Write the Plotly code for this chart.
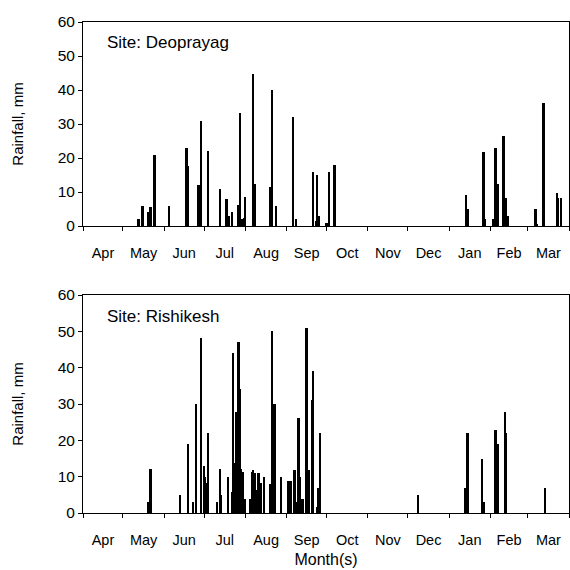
import plotly.graph_objects as go
from plotly.subplots import make_subplots

# Deoprayag daily rainfall (mm)
deo_dates = ["2001-05-13","2001-05-16","2001-05-20","2001-05-22","2001-05-25","2001-06-05",
             "2001-06-18","2001-06-19","2001-06-27","2001-06-29","2001-07-04","2001-07-13",
             "2001-07-18","2001-07-20","2001-07-22","2001-07-27","2001-07-28","2001-07-30",
             "2001-07-31","2001-08-01","2001-08-07","2001-08-08","2001-08-20","2001-08-21",
             "2001-08-24","2001-09-06","2001-09-08","2001-09-21","2001-09-23","2001-09-24",
             "2001-09-25","2001-10-01","2001-10-03","2001-10-07",
             "2002-01-14","2002-01-15","2002-01-27","2002-01-28","2002-02-03","2002-02-05",
             "2002-02-07","2002-02-11","2002-02-13","2002-02-14","2002-03-07","2002-03-08",
             "2002-03-13","2002-03-23","2002-03-24","2002-03-26"]
deo_rain = [2.0,5.9,4.1,5.5,21,5.9,
            23,17.6,12.1,31,22,10.9,
            8,2.9,4.0,6.2,33.1,2.1,
            2.4,8.4,44.7,12.4,11.4,40,
            5.9,32,2,15.8,1.6,14.9,
            2.8,1,15.8,17.8,
            9.2,4.9,21.9,2,2.2,22.9,
            12.5,26.6,8.2,3,4.9,0.5,
            36.3,9.6,8.1,8.1]

# Rishikesh daily rainfall (mm)
ris_dates = ["2001-05-20","2001-05-22","2001-06-13","2001-06-19","2001-06-23","2001-06-25",
             "2001-06-29","2001-07-01","2001-07-02","2001-07-03","2001-07-04","2001-07-11",
             "2001-07-13","2001-07-14","2001-07-19","2001-07-22","2001-07-23","2001-07-24",
             "2001-07-25","2001-07-26","2001-07-27","2001-07-28","2001-07-29","2001-07-30",
             "2001-08-01","2001-08-05","2001-08-06","2001-08-07","2001-08-08","2001-08-09",
             "2001-08-11","2001-08-12","2001-08-13","2001-08-15","2001-08-20","2001-08-21",
             "2001-08-23","2001-08-28","2001-09-02","2001-09-04","2001-09-07","2001-09-08",
             "2001-09-10","2001-09-11","2001-09-13","2001-09-16","2001-09-17","2001-09-18",
             "2001-09-20","2001-09-21","2001-09-24","2001-09-25","2001-09-26",
             "2001-12-09","2002-01-13","2002-01-15","2002-01-26","2002-01-27","2002-02-05",
             "2002-02-07","2002-02-12","2002-02-13","2002-03-14"]
ris_rain = [3.0,12.1,5.0,19,3,30,
            48.1,12.9,10,8.3,21.9,3,
            12,5,10,5.9,44.1,13.8,
            27.9,9,47.1,34,12,11.4,
            3.9,3.9,11.4,11.8,11,6.3,
            10.9,7.9,8.2,9.8,7.9,50,
            29.9,9.8,8.9,8.9,11.8,2.9,
            26.1,9.8,3.8,51,2.9,11.8,
            31.1,39.1,1.7,6.9,21.9,
            4.9,6.9,21.9,14.9,2.9,22.9,
            19,27.9,21.9,6.8]

sites = ["Site: Deoprayag", "Site: Rishikesh"]

FONT = "Liberation Sans, Arial, sans-serif"
DAY = 86400000

fig = make_subplots(rows=2, cols=1, vertical_spacing=0.0)
fig.add_trace(go.Bar(x=deo_dates, y=deo_rain, marker_color="black", marker_line_width=0,
                     width=1.4 * DAY), row=1, col=1)
fig.add_trace(go.Bar(x=ris_dates, y=ris_rain, marker_color="black", marker_line_width=0,
                     width=1.4 * DAY), row=2, col=1)

H = 570 - 22 - 57
fig.update_layout(
    width=570, height=570,
    margin=dict(l=83, r=1, t=22, b=57),
    paper_bgcolor="white", plot_bgcolor="white",
    showlegend=False, bargap=0,
    font=dict(family=FONT, size=14, color="black"),
    yaxis=dict(domain=[1 - 204 / H, 1]),
    yaxis2=dict(domain=[0, 218 / H]),
)

xcommon = dict(type="date", range=["2001-04-01", "2002-04-01"], dtick="M1", tick0="2001-04-01",
               tickformat="%b", ticklabelmode="period", ticks="outside", ticklen=4,
               tickcolor="black", showline=True, linecolor="black", linewidth=1, mirror=True,
               showgrid=False, zeroline=False, tickfont=dict(size=14.5), ticklabelstandoff=10)
fig.update_xaxes(**xcommon)
fig.update_xaxes(matches=None)
fig.update_xaxes(title=dict(text="Month(s)", font=dict(size=16), standoff=6), row=2, col=1)

ycommon = dict(range=[0, 60], dtick=10, ticks="outside", ticklen=4, tickcolor="black",
               showline=True, linecolor="black", linewidth=1, mirror=True, showgrid=False,
               zeroline=False, tickfont=dict(size=15.5),
               title=dict(text="Rainfall, mm", font=dict(size=15), standoff=30))
fig.update_yaxes(**ycommon)

fig.add_annotation(text=sites[0], xref="x domain", yref="y domain", x=0.045, y=0.90,
                   xanchor="left", yanchor="middle", showarrow=False, font=dict(size=17))
fig.add_annotation(text=sites[1], xref="x2 domain", yref="y2 domain", x=0.045, y=0.90,
                   xanchor="left", yanchor="middle", showarrow=False, font=dict(size=17))

fig.write_html("out.html")
